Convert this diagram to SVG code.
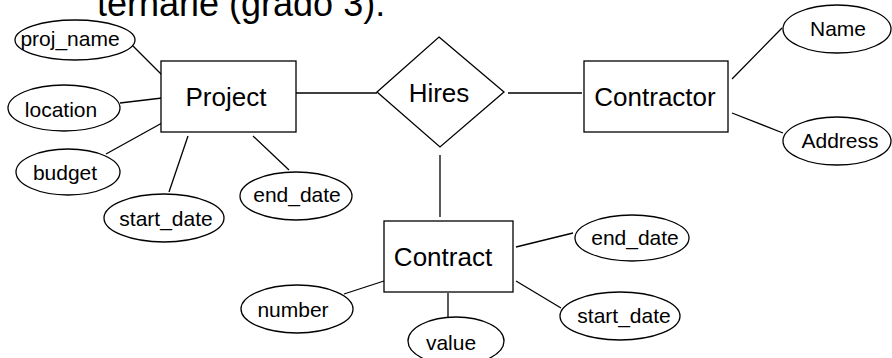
<svg xmlns="http://www.w3.org/2000/svg" width="892" height="358" viewBox="0 0 892 358">
<style>
.shape{fill:#fff;stroke:#000;stroke-width:1.3}
.line{stroke:#000;stroke-width:1.3;fill:none}
.big{font-family:"Liberation Sans",Arial,sans-serif;font-size:26px;text-anchor:middle;fill:#000}
.small{font-family:"Liberation Sans",Arial,sans-serif;font-size:21px;text-anchor:middle;fill:#000}
.title{font-family:"Liberation Sans",Arial,sans-serif;font-size:36px;fill:#000}
</style>
<rect width="892" height="358" fill="#fff"/>
<text class="title" x="97" y="16">ternarie (grado 3):</text>
<g id="connectors">
<line class="line" x1="133" y1="46" x2="162" y2="75"/>
<line class="line" x1="120" y1="103" x2="162" y2="98"/>
<line class="line" x1="106" y1="154" x2="162" y2="123"/>
<line class="line" x1="169" y1="192" x2="188" y2="136"/>
<line class="line" x1="253" y1="136" x2="289" y2="170"/>
<line class="line" x1="296" y1="93" x2="377" y2="93"/>
<line class="line" x1="508" y1="93" x2="582" y2="93"/>
<line class="line" x1="732" y1="79" x2="782" y2="28"/>
<line class="line" x1="732" y1="113" x2="783" y2="133"/>
<line class="line" x1="440" y1="155" x2="440" y2="217"/>
<line class="line" x1="516" y1="247" x2="573" y2="233"/>
<line class="line" x1="516" y1="281" x2="561" y2="308"/>
<line class="line" x1="344" y1="294" x2="387" y2="280"/>
<line class="line" x1="448" y1="293" x2="448" y2="317"/>
</g>
<g id="project"><rect class="shape" x="161" y="61" width="135" height="71"/><text class="big" x="226" y="106">Project</text></g>
<g id="hires"><polygon class="shape" points="439,37 504,92 440,147 377,92"/><text class="big" x="439" y="102">Hires</text></g>
<g id="contractor"><rect class="shape" x="584" y="61" width="144" height="71"/><text class="big" x="655" y="106">Contractor</text></g>
<g id="contract"><rect class="shape" x="384" y="221" width="129" height="71"/><text class="big" x="443" y="266">Contract</text></g>
<g id="proj_name"><ellipse class="shape" cx="75" cy="40" rx="60" ry="20"/><text class="small" x="70" y="46">proj_name</text></g>
<g id="location"><ellipse class="shape" cx="64" cy="108" rx="56" ry="23"/><text class="small" x="61" y="117">location</text></g>
<g id="budget"><ellipse class="shape" cx="68" cy="172" rx="52" ry="23"/><text class="small" x="65" y="180">budget</text></g>
<g id="start_date_p"><ellipse class="shape" cx="164" cy="218" rx="60" ry="24"/><text class="small" x="166" y="226">start_date</text></g>
<g id="end_date_p"><ellipse class="shape" cx="296" cy="196" rx="56" ry="24"/><text class="small" x="297" y="202">end_date</text></g>
<g id="name"><ellipse class="shape" cx="837" cy="29" rx="54" ry="24"/><text class="small" x="838" y="36">Name</text></g>
<g id="address"><ellipse class="shape" cx="837" cy="141" rx="54" ry="24"/><text class="small" x="840" y="148">Address</text></g>
<g id="end_date_c"><ellipse class="shape" cx="632" cy="238" rx="57" ry="23"/><text class="small" x="635" y="245">end_date</text></g>
<g id="start_date_c"><ellipse class="shape" cx="620" cy="316" rx="60" ry="24"/><text class="small" x="624" y="323">start_date</text></g>
<g id="number"><ellipse class="shape" cx="297" cy="309" rx="56" ry="24"/><text class="small" x="293" y="317">number</text></g>
<g id="value"><ellipse class="shape" cx="456" cy="341" rx="48" ry="24"/><text class="small" x="451" y="350">value</text></g>
</svg>
